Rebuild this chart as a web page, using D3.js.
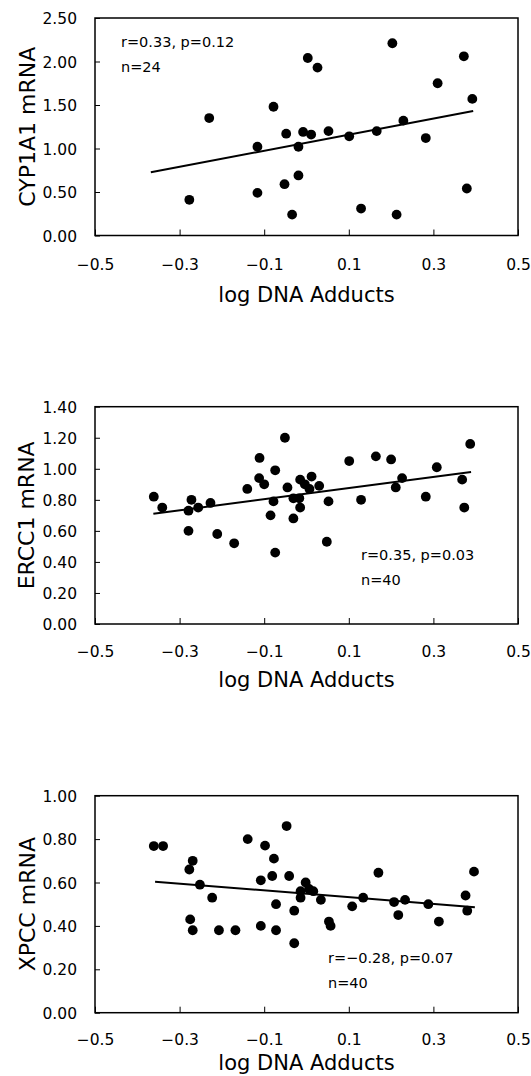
<!DOCTYPE html>
<html><head><meta charset="utf-8">
<script src="https://cdn.jsdelivr.net/npm/d3@7"></script>
<style>body{margin:0;background:#fff}svg{display:block}text{font-family:"DejaVu Sans",sans-serif;fill:#000}</style>
</head><body>
<script>
const xTicks = [-0.5, -0.3, -0.1, 0.1, 0.3, 0.5];
const xTitle = "log DNA Adducts";

// Panel 1: CYP1A1
const cypX = [-0.277,-0.230,-0.116,-0.116,-0.078,-0.048,-0.052,-0.034,-0.019,-0.019,-0.008,0.003,0.011,0.026,0.052,0.101,0.129,0.166,0.203,0.213,0.229,0.282,0.310,0.372,0.392,0.379];
const cypY = [0.41,1.35,1.02,0.49,1.48,1.17,0.59,0.24,1.02,0.69,1.19,2.04,1.16,1.93,1.20,1.14,0.31,1.20,2.21,0.24,1.32,1.12,1.75,2.06,1.57,0.54];
const cypFitX = [-0.368, 0.394];
const cypFitY = [0.726, 1.43];
const cypTicks = [0, 0.5, 1.0, 1.5, 2.0, 2.5];

// Panel 2: ERCC1
const ercX = [-0.361,-0.341,-0.272,-0.279,-0.256,-0.279,-0.227,-0.211,-0.171,-0.140,-0.111,-0.112,-0.100,-0.074,-0.078,-0.085,-0.074,-0.051,-0.045,-0.031,-0.031,-0.015,-0.017,-0.015,-0.004,0.007,0.012,0.030,0.052,0.048,0.101,0.129,0.164,0.200,0.226,0.211,0.282,0.308,0.368,0.373,0.387];
const ercY = [0.82,0.75,0.80,0.73,0.75,0.60,0.78,0.58,0.52,0.87,1.07,0.94,0.90,0.99,0.79,0.70,0.46,1.20,0.88,0.81,0.68,0.93,0.81,0.75,0.90,0.87,0.95,0.89,0.79,0.53,1.05,0.80,1.08,1.06,0.94,0.88,0.82,1.01,0.93,0.75,1.16];
const ercFitX = [-0.362, 0.389];
const ercFitY = [0.71, 0.98];
const ercTicks = [0, 0.2, 0.4, 0.6, 0.8, 1.0, 1.2, 1.4];

// Panel 3: XPCC
const xpcX = [-0.361,-0.339,-0.277,-0.269,-0.252,-0.223,-0.275,-0.269,-0.207,-0.168,-0.139,-0.098,-0.077,-0.108,-0.081,-0.041,-0.047,-0.072,-0.108,-0.072,-0.029,-0.029,-0.002,-0.014,-0.014,0.006,0.016,0.034,0.053,0.057,0.108,0.134,0.170,0.207,0.217,0.233,0.288,0.313,0.376,0.380,0.396];
const xpcY = [0.768,0.768,0.66,0.70,0.59,0.53,0.43,0.38,0.38,0.38,0.80,0.77,0.71,0.61,0.63,0.63,0.86,0.50,0.40,0.38,0.47,0.32,0.60,0.56,0.53,0.57,0.56,0.52,0.42,0.40,0.49,0.53,0.645,0.51,0.45,0.52,0.50,0.42,0.54,0.47,0.65];
const xpcFitX = [-0.358, 0.398];
const xpcFitY = [0.604, 0.486];
const xpcTicks = [0, 0.2, 0.4, 0.6, 0.8, 1.0];

const panels = [
  {x: cypX, y: cypY, fx: cypFitX, fy: cypFitY, ticks: cypTicks, title: "CYP1A1 mRNA",
   ann: ["r=0.33, p=0.12", "n=24"], top: 18, bottom: 235.5, annX: 121, annY: 47, tickOff: 23, titleOff: 66, ytx: 35},
  {x: ercX, y: ercY, fx: ercFitX, fy: ercFitY, ticks: ercTicks, title: "ERCC1 mRNA",
   ann: ["r=0.35, p=0.03", "n=40"], top: 406.7, bottom: 624, annX: 361, annY: 560, tickOff: 22, titleOff: 63, ytx: 33.5},
  {x: xpcX, y: xpcY, fx: xpcFitX, fy: xpcFitY, ticks: xpcTicks, title: "XPCC mRNA",
   ann: ["r=\u22120.28, p=0.07", "n=40"], top: 795.7, bottom: 1012.7, annX: 328, annY: 963, tickOff: 21, titleOff: 57, ytx: 35}
];

const W = 531, H = 1076, left = 95, right = 518;
const svg = d3.select("body").append("svg").attr("width", W).attr("height", H);

panels.forEach(p => {
  const x = d3.scaleLinear().domain([-0.5, 0.5]).range([left, right]);
  const y = d3.scaleLinear().domain([0, d3.max(p.ticks)]).range([p.bottom, p.top]);
  const g = svg.append("g");

  const yAxis = g.append("g").attr("transform", `translate(${left},0)`)
    .call(d3.axisLeft(y).tickValues(p.ticks).tickFormat(d3.format(".2f")).tickSize(-5).tickPadding(18));
  yAxis.select(".domain").remove();
  yAxis.selectAll("text").style("font-size", "15.5px").attr("dy", "0.36em");
  yAxis.selectAll("line").attr("stroke", "#000").attr("stroke-width", 1);

  const xAxis = g.append("g").attr("transform", `translate(0,${p.bottom})`)
    .call(d3.axisBottom(x).tickValues(xTicks).tickFormat(d3.format(".1f")).tickSize(-6).tickPadding(p.tickOff));
  xAxis.select(".domain").remove();
  xAxis.selectAll("text").style("font-size", "15.5px");
  xAxis.selectAll("line").attr("stroke", "#000").attr("stroke-width", 1);

  g.append("rect").attr("x", left).attr("y", p.top).attr("width", right - left).attr("height", p.bottom - p.top)
    .attr("fill", "none").attr("stroke", "#000").attr("stroke-width", 1.5);

  const pts = p.x.map((v, i) => [v, p.y[i]]);
  g.selectAll("circle").data(pts).join("circle")
    .attr("cx", d => x(d[0])).attr("cy", d => y(d[1])).attr("r", 4.9).attr("fill", "#000");

  const fit = p.fx.map((v, i) => [v, p.fy[i]]);
  g.append("path").datum(fit)
    .attr("d", d3.line().x(d => x(d[0])).y(d => y(d[1])))
    .attr("stroke", "#000").attr("stroke-width", 2).attr("fill", "none");

  g.append("text").attr("x", p.annX).attr("y", p.annY).style("font-size", "14.5px").text(p.ann[0]);
  g.append("text").attr("x", p.annX).attr("y", p.annY + 24.5).style("font-size", "14.5px").text(p.ann[1]);

  g.append("text").attr("x", (left + right) / 2).attr("y", p.bottom + p.titleOff)
    .attr("text-anchor", "middle").style("font-size", "21px").text(xTitle);

  g.append("text").attr("transform", `translate(${p.ytx},${(p.top + p.bottom) / 2}) rotate(-90)`)
    .attr("text-anchor", "middle").style("font-size", "22px").text(p.title);
});
</script>
</body></html>
